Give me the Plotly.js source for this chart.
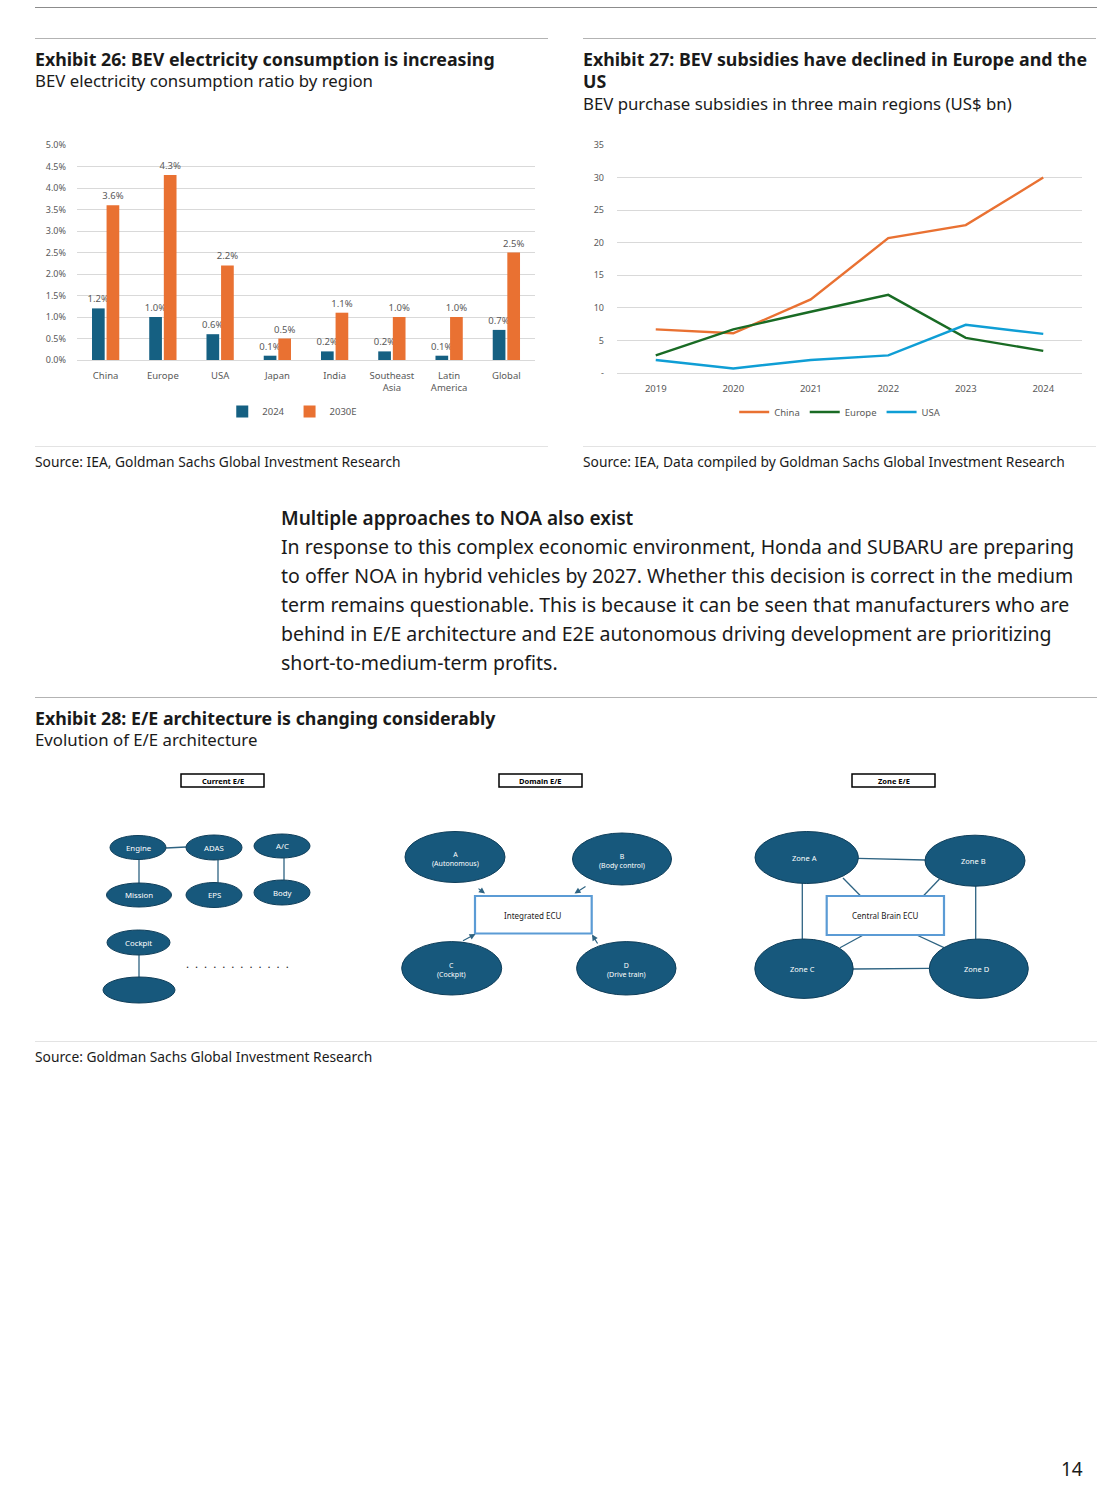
<!DOCTYPE html>
<html>
<head>
<meta charset="utf-8">
<script src="https://cdn.plot.ly/plotly-3.0.1.min.js"></script>
<style>
  html, body { margin: 0; padding: 0; background: #fff; }
  #page { position: relative; width: 1118px; height: 1499px; overflow: hidden; font-family: "Noto Sans", "Open Sans", sans-serif; color: #1a1a1a; }
  .abs { position: absolute; white-space: nowrap; }
  .hr { position: absolute; height: 0; border-top: 1px solid #b3b3b3; }
  .title { font-weight: 700; font-size: 17.8px; line-height: 22px; }
  .sub { font-size: 16.8px; line-height: 22px; }
  .src { font-size: 13.8px; line-height: 18px; }
  .body { font-size: 19.5px; line-height: 29px; }
</style>
</head>
<body>
<div id="page">
  <div class="hr" style="left:35px; width:1062px; top:7px; border-color:#8c8c8c;"></div>
  <div class="hr" style="left:35px; width:513px; top:38px;"></div>
  <div class="hr" style="left:583px; width:513px; top:38px;"></div>

  <div class="abs title" style="left:35px; top:48px;">Exhibit 26: BEV electricity consumption is increasing</div>
  <div class="abs sub" style="left:35px; top:70px;">BEV electricity consumption ratio by region</div>

  <div class="abs title" style="left:583px; top:48px;">Exhibit 27: BEV subsidies have declined in Europe and the</div>
  <div class="abs title" style="left:583px; top:70px;">US</div>
  <div class="abs sub" style="left:583px; top:93px;">BEV purchase subsidies in three main regions (US$ bn)</div>

  <div id="chart26" class="abs" style="left:0px; top:130px; width:560px; height:300px;"></div>
  <div id="chart27" class="abs" style="left:560px; top:130px; width:558px; height:300px;"></div>

  <div class="hr" style="left:35px; width:513px; top:446px; border-color:#e3e3e3;"></div>
  <div class="hr" style="left:583px; width:513px; top:446px; border-color:#e3e3e3;"></div>
  <div class="abs src" style="left:35px; top:453px;">Source: IEA, Goldman Sachs Global Investment Research</div>
  <div class="abs src" style="left:583px; top:453px;">Source: IEA, Data compiled by Goldman Sachs Global Investment Research</div>

  <div class="abs" style="left:281px; top:504px; font-size:19px; line-height:28px; font-weight:600;">Multiple approaches to NOA also exist</div>
  <div class="abs body" style="left:281px; top:532px;">
    <div>In response to this complex economic environment, Honda and SUBARU are preparing</div>
    <div>to offer NOA in hybrid vehicles by 2027. Whether this decision is correct in the medium</div>
    <div>term remains questionable. This is because it can be seen that manufacturers who are</div>
    <div>behind in E/E architecture and E2E autonomous driving development are prioritizing</div>
    <div>short-to-medium-term profits.</div>
  </div>

  <div class="hr" style="left:35px; width:1062px; top:697px;"></div>
  <div class="abs title" style="left:35px; top:707px;">Exhibit 28: E/E architecture is changing considerably</div>
  <div class="abs sub" style="left:35px; top:729px;">Evolution of E/E architecture</div>

  <div id="diagram28" class="abs" style="left:0px; top:760px; width:1118px; height:290px;"></div>

  <div class="hr" style="left:35px; width:1062px; top:1041px; border-color:#e3e3e3;"></div>
  <div class="abs src" style="left:35px; top:1048px;">Source: Goldman Sachs Global Investment Research</div>

  <div class="abs" style="left:1061px; top:1457px; font-size:19px; line-height:24px;">14</div>
</div>

<script>
// ---------- Exhibit 26 data ----------
const regions = ['China', 'Europe', 'USA', 'Japan', 'India', 'Southeast<br>Asia', 'Latin<br>America', 'Global'];
const share2024 = [0.012, 0.010, 0.006, 0.001, 0.002, 0.002, 0.001, 0.007];
const share2030E = [0.036, 0.043, 0.022, 0.005, 0.011, 0.010, 0.010, 0.025];
const shareTicks = [0, 0.005, 0.01, 0.015, 0.02, 0.025, 0.03, 0.035, 0.04, 0.045, 0.05];

// ---------- Exhibit 27 data ----------
const years = ['2019', '2020', '2021', '2022', '2023', '2024'];
const chinaSubsidy = [6.7, 6.1, 11.3, 20.7, 22.7, 30.0];
const europeSubsidy = [2.7, 6.7, 9.4, 12.0, 5.4, 3.4];
const usaSubsidy = [2.0, 0.7, 2.0, 2.7, 7.4, 6.0];
const subsidyTicks = [0, 5, 10, 15, 20, 25, 30, 35];
const subsidyTickText = ['-', '5', '10', '15', '20', '25', '30', '35'];

// ---------- Exhibit 28 labels ----------
const panelTitles = ['Current E/E', 'Domain E/E', 'Zone E/E'];
const currentNodes = ['Engine', 'ADAS', 'A/C', 'Mission', 'EPS', 'Body', 'Cockpit', ''];
const domainNodes = ['A<br>(Autonomous)', 'B<br>(Body control)', 'C<br>(Cockpit)', 'D<br>(Drive train)'];
const domainHub = 'Integrated ECU';
const zoneNodes = ['Zone A', 'Zone B', 'Zone C', 'Zone D'];
const zoneHub = 'Central Brain ECU';

const NAVY = '#156082', ORANGE = '#E97132', GREEN = '#196B24', BLUE = '#0F9ED5';
const TICK = '#595959', GRID = '#d9d9d9';
const FONT = 'Noto Sans, Open Sans, sans-serif';

// ---- Chart 26 ----
Plotly.newPlot('chart26', [
  { type: 'bar', name: '2024', x: regions, y: share2024, marker: { color: NAVY },
    text: share2024.map(v => (v * 100).toFixed(1) + '%'), textposition: 'outside', constraintext: 'none',
    textfont: { size: 9.5, color: TICK }, cliponaxis: false },
  { type: 'bar', name: '2030E', x: regions, y: share2030E, marker: { color: ORANGE },
    text: share2030E.map(v => (v * 100).toFixed(1) + '%'), textposition: 'outside', constraintext: 'none',
    textfont: { size: 9.5, color: TICK }, cliponaxis: false }
], {
  width: 560, height: 300,
  margin: { l: 77, r: 25, t: 15, b: 70, autoexpand: false },
  paper_bgcolor: 'rgba(0,0,0,0)', plot_bgcolor: 'rgba(0,0,0,0)',
  font: { family: FONT, size: 9, color: TICK },
  barmode: 'group', bargap: 0.49, bargroupgap: 0.13,
  xaxis: { type: 'category', tickfont: { size: 9.5, color: TICK }, ticks: '', ticklabelstandoff: 8, showline: false, automargin: false, fixedrange: true },
  yaxis: { range: [0, 0.05], tickvals: shareTicks, tickformat: '.1%', tickfont: { size: 9, color: TICK },
           gridcolor: GRID, gridwidth: 1, zeroline: true, zerolinecolor: GRID, ticks: '', ticklabelstandoff: 10, automargin: false, fixedrange: true },
  showlegend: true,
  legend: { orientation: 'h', x: 0.47, xanchor: 'center', y: -0.24, yanchor: 'middle',
            font: { size: 9.5, color: TICK }, itemwidth: 30, tracegroupgap: 0 }
}, { displayModeBar: false, staticPlot: true });

// ---- Chart 27 ----
const lineTrace = (name, y, color) => ({ type: 'scatter', mode: 'lines', name, x: years, y,
  line: { color, width: 2.4 } });
Plotly.newPlot('chart27', [
  lineTrace('China', chinaSubsidy, ORANGE),
  lineTrace('Europe', europeSubsidy, GREEN),
  lineTrace('USA', usaSubsidy, BLUE)
], {
  width: 558, height: 300,
  margin: { l: 57, r: 36, t: 15, b: 57, autoexpand: false },
  paper_bgcolor: 'rgba(0,0,0,0)', plot_bgcolor: 'rgba(0,0,0,0)',
  font: { family: FONT, size: 9, color: TICK },
  xaxis: { type: 'category', range: [-0.5, 5.5], tickfont: { size: 9.5, color: TICK }, ticks: '', ticklabelstandoff: 8,
           showline: false, showgrid: false, automargin: false, fixedrange: true },
  yaxis: { range: [0, 35], tickvals: subsidyTicks, ticktext: subsidyTickText, tickfont: { size: 9, color: TICK },
           gridcolor: GRID, zeroline: true, zerolinecolor: GRID, ticks: '', ticklabelstandoff: 12, automargin: false, fixedrange: true },
  showlegend: true,
  legend: { orientation: 'h', x: 0.48, xanchor: 'center', y: -0.171, yanchor: 'middle',
            font: { size: 9.5, color: TICK }, itemwidth: 30 }
}, { displayModeBar: false, staticPlot: true });

// ---- Diagram 28 (drawn in page-pixel coordinates) ----
const FILL = '#17587C', EDGE = '#0F3E5A', LINK = '#2E6382', HUBLINE = '#5B9BD5';
const shapes = [], ann = [];
function ellipse(cx, cy, rx, ry) {
  shapes.push({ type: 'circle', xref: 'x', yref: 'y', x0: cx - rx, x1: cx + rx, y0: cy - ry, y1: cy + ry,
    fillcolor: FILL, line: { color: EDGE, width: 1 }, layer: 'above' });
}
function label(x, y, text, size, color, bold) {
  ann.push({ x, y, xref: 'x', yref: 'y', text: bold ? '<b>' + text + '</b>' : text, showarrow: false,
    font: { size, color, family: FONT }, align: 'center', xanchor: 'center', yanchor: 'middle' });
}
function link(x0, y0, x1, y1) {
  shapes.push({ type: 'line', xref: 'x', yref: 'y', x0, y0, x1, y1, line: { color: LINK, width: 1.3 }, layer: 'below' });
}
function box(x0, y0, x1, y1, color, width) {
  shapes.push({ type: 'rect', xref: 'x', yref: 'y', x0, y0, x1, y1, fillcolor: '#ffffff', line: { color, width }, layer: 'above' });
}
function arrow(fx, fy, tx, ty) {
  ann.push({ x: tx, y: ty, ax: fx, ay: fy, xref: 'x', yref: 'y', axref: 'x', ayref: 'y', text: '', showarrow: true,
    arrowhead: 2, arrowsize: 1, arrowwidth: 1.2, arrowcolor: LINK });
}

// panel title boxes
const titleBoxes = [[181, 264], [499, 582], [852, 935]];
titleBoxes.forEach((b, i) => {
  box(b[0], 774, b[1], 787, '#000000', 1.5);
  label((b[0] + b[1]) / 2, 780.5, panelTitles[i], 7.5, '#000000', true);
});

// Current E/E
const curGeo = [[138, 847.5, 28, 12], [214, 847.5, 28, 12.5], [282, 846, 28, 12],
                [139, 895, 32.5, 12], [214, 895, 28, 12.5], [282, 892.5, 28, 12.5],
                [138.5, 942.5, 31.5, 12.5], [139, 990, 36, 13]];
link(166, 848, 186, 847);
link(139, 859, 139, 883);
link(218, 860, 218, 882);
link(284, 858, 284, 880);
link(139, 955, 139, 977);
curGeo.forEach((g, i) => { ellipse(g[0], g[1], g[2], g[3]); if (currentNodes[i]) label(g[0], g[1], currentNodes[i], 7.8, '#ffffff'); });
label(237.5, 963.5, Array(12).fill('.').join('&nbsp;&nbsp;'), 11.5, '#222222');

// Domain E/E
const domGeo = [[455, 857, 50, 25.5], [622, 859, 49.5, 26], [451.7, 968.3, 50, 26.7], [626.3, 968.3, 49.7, 26.7]];
box(475, 896, 591.7, 933.5, HUBLINE, 2.2);
label(533, 915.5, domainHub, 8, '#1a1a1a');
domGeo.forEach((g, i) => { ellipse(g[0], g[1], g[2], g[3]); label(g[0], g[1] + 2, domainNodes[i], 7, '#ffffff'); });
arrow(477, 887.5, 485, 893.5);
arrow(587, 885.5, 574.5, 893.5);
arrow(461.5, 941.5, 475.5, 934);
arrow(598.5, 945, 592, 934.5);

// Zone E/E
const zoneGeo = [[806.7, 857.5, 51.7, 26], [975, 860.7, 50, 25.5], [804, 968.7, 49.2, 29.7], [978.8, 968.7, 49.5, 29.7]];
link(858, 858.3, 925, 860);
link(802.3, 883, 802.3, 939);
link(975.7, 886, 975.7, 940);
link(853, 969, 929.5, 968.4);
link(843, 878, 860.7, 896);
link(939.5, 879, 923.3, 896);
link(840, 947.7, 863.3, 935);
link(944, 947.7, 916.7, 935);
box(826.7, 896, 944, 935, HUBLINE, 2.2);
label(885.3, 915.5, zoneHub, 8, '#1a1a1a');
zoneGeo.forEach((g, i) => { ellipse(g[0], g[1], g[2], g[3]); label(g[0] - 2, g[1] + 0.5, zoneNodes[i], 7.5, '#ffffff'); });

Plotly.newPlot('diagram28', [], {
  width: 1118, height: 290, margin: { l: 0, r: 0, t: 0, b: 0 },
  paper_bgcolor: 'rgba(0,0,0,0)', plot_bgcolor: 'rgba(0,0,0,0)',
  xaxis: { range: [0, 1118], visible: false, fixedrange: true },
  yaxis: { range: [1050, 760], visible: false, fixedrange: true },
  shapes, annotations: ann, showlegend: false
}, { displayModeBar: false, staticPlot: true });
</script>
</body>
</html>
